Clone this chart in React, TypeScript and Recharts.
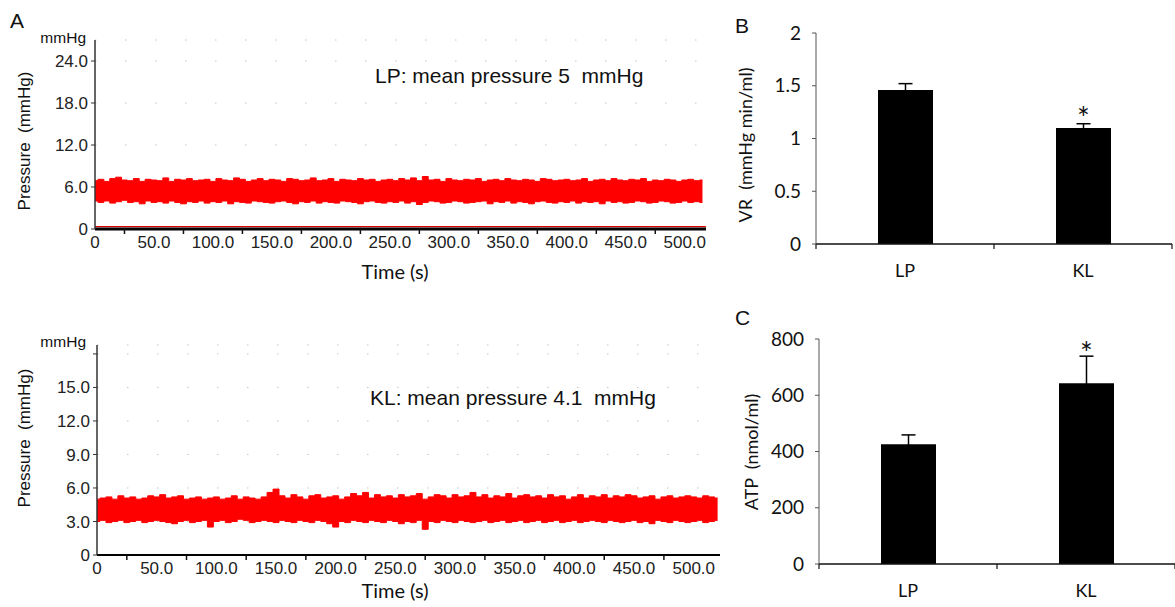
import React from "react";
import {
  ComposedChart,
  Area,
  BarChart,
  Bar,
  ErrorBar,
  LabelList,
  XAxis,
  YAxis,
  CartesianGrid,
  ReferenceLine,
} from "recharts";

// ─── data ────────────────────────────────────────────────────────────────────
// pressure traces: envelope of the noisy signal, read every 5 s
const lpHigh = [
  6.9, 7.1, 6.8, 7.2, 7.4, 7.0, 6.9, 7.2, 6.8, 7.1,
  7.0, 6.9, 7.3, 6.8, 7.1, 7.0, 7.2, 6.9, 7.0, 7.1,
  6.8, 7.2, 7.0, 6.9, 7.3, 7.1, 6.8, 7.0, 7.2, 6.9,
  7.1, 7.0, 6.8, 7.2, 7.1, 6.9, 7.0, 7.3, 6.9, 7.0,
  7.2, 6.8, 7.1, 7.0, 6.9, 7.2, 7.0, 7.1, 6.8, 7.0,
  7.1, 6.9, 7.2, 7.0, 7.3, 6.9, 7.5, 7.0, 7.1, 6.8,
  7.2, 7.0, 6.9, 7.1, 7.0, 7.2, 6.8, 7.0, 7.1, 6.9,
  7.2, 7.0, 6.9, 7.1, 7.0, 6.8, 7.2, 7.1, 6.9, 7.0,
  7.1, 6.9, 7.0, 7.2, 6.8, 7.0, 7.1, 6.9, 7.2, 7.0,
  6.9, 7.1, 7.0, 7.2, 6.8, 7.0, 6.9, 7.1, 7.0, 6.8,
  7.0, 7.1, 6.9, 7.0,
];
const lpLow = [
  4.0, 3.8, 4.0, 3.7, 3.9, 4.1, 3.8, 3.9, 3.6, 4.0,
  3.8, 3.9, 3.7, 4.0, 3.8, 3.6, 3.9, 3.8, 4.0, 3.7,
  3.9, 3.8, 4.0, 3.6, 3.9, 3.8, 3.7, 4.0, 3.9, 3.8,
  3.7, 3.9, 4.0, 3.8, 3.6, 3.9, 3.8, 4.0, 3.7, 3.9,
  3.8, 3.7, 4.0, 3.9, 3.8, 3.6, 3.9, 4.0, 3.8, 3.7,
  3.9, 3.8, 4.0, 3.7, 3.9, 3.5, 3.8, 4.0, 3.9, 3.7,
  3.8, 4.0, 3.9, 3.7, 3.8, 3.9, 4.0, 3.6, 3.9, 3.8,
  4.0, 3.7, 3.9, 3.8, 3.6, 3.9, 4.0, 3.8, 3.7, 3.9,
  3.8, 4.0, 3.7, 3.9, 3.8, 3.9, 3.6, 4.0, 3.8, 3.9,
  3.7, 3.8, 4.0, 3.9, 3.7, 3.8, 4.0, 3.9, 3.7, 3.8,
  4.0, 3.8, 3.9, 3.8,
];
const klHigh = [
  5.0, 5.1, 5.2, 5.0, 5.3, 5.1, 5.2, 5.0, 5.1, 5.3,
  5.2, 5.4, 5.1, 5.2, 5.3, 5.0, 5.1, 5.2, 5.0, 5.1,
  5.2, 5.0, 5.1, 5.3, 5.0, 5.2, 5.1, 5.0, 5.2, 5.6,
  5.9, 5.3, 5.1, 5.4, 5.2, 5.0, 5.3, 5.4, 5.1, 5.2,
  5.3, 5.0, 5.2, 5.5, 5.3, 5.6, 5.1, 5.4, 5.2, 5.3,
  5.1, 5.4, 5.2, 5.3, 5.5, 5.0, 5.2, 5.4, 5.3, 5.1,
  5.4, 5.2, 5.3, 5.6, 5.2, 5.4, 5.1, 5.3, 5.2, 5.5,
  5.1, 5.3, 5.4, 5.2, 5.3, 5.1, 5.4, 5.2, 5.3, 5.0,
  5.2, 5.4, 5.1, 5.3, 5.2, 5.4, 5.1, 5.3, 5.2, 5.4,
  5.3, 5.1, 5.2, 5.3, 5.0, 5.2, 5.3, 5.1, 5.2, 5.3,
  5.2, 5.1, 5.3, 5.2, 5.1,
];
const klLow = [
  3.0, 3.1, 2.9, 3.0, 3.1, 2.9, 3.0, 3.1, 2.9, 3.0,
  3.1, 3.0, 2.9, 2.8, 3.0, 3.1, 2.9, 3.0, 3.1, 2.5,
  3.0, 3.1, 2.9, 3.0, 3.2, 3.1, 2.9, 3.0, 3.1, 3.0,
  2.9, 3.1, 3.0, 2.9, 3.1, 3.0, 2.9, 3.1, 3.0, 2.8,
  2.5, 3.0, 2.9, 3.1, 3.0, 2.9, 3.1, 3.0, 2.9, 3.1,
  3.0, 2.8, 3.0, 2.9, 3.1, 2.3, 3.0, 2.9, 3.1, 3.0,
  2.9, 3.1, 3.0, 2.9, 3.0, 3.1, 2.9, 3.0, 3.1, 2.9,
  3.0, 3.1, 2.9, 3.0, 3.1, 2.9, 3.0, 3.1, 2.9, 3.0,
  3.1, 2.9, 3.0, 3.1, 3.0, 2.9, 3.1, 3.0, 2.9, 3.0,
  3.1, 2.9, 3.0, 2.8, 3.1, 3.0, 2.9, 3.1, 3.0, 2.9,
  3.0, 3.1, 2.9, 3.0, 3.1,
];
const sampleStep = 5; // seconds between envelope readings

const lpTicksY = [0, 6, 12, 18, 24];
const klTicksY = [0, 3, 6, 9, 12, 15, 18];
const timeTicks = [
  0, 25, 50, 75, 100, 125, 150, 175, 200, 225, 250, 275, 300, 325, 350, 375,
  400, 425, 450, 475, 500,
];

// bar panels
const groups = ["LP", "KL"];
const groupPos = [0.5, 1.5];
const vrMean = [1.46, 1.1];
const vrSem = [0.06, 0.04];
const atpMean = [426, 643];
const atpSem = [33, 96];
const sigMarks = ["", "*"];
const vrTicks = [0, 0.5, 1, 1.5, 2];
const atpTicks = [0, 200, 400, 600, 800];

const traceLP = lpHigh.map((hi, i) => ({ t: i * sampleStep, band: [lpLow[i], hi] }));
const traceKL = klHigh.map((hi, i) => ({ t: i * sampleStep, band: [klLow[i], hi] }));
const vrData = groups.map((g, i) => ({ name: g, pos: groupPos[i], mean: vrMean[i], sem: vrSem[i], sig: sigMarks[i] }));
const atpData = groups.map((g, i) => ({ name: g, pos: groupPos[i], mean: atpMean[i], sem: atpSem[i], sig: sigMarks[i] }));

const ARIAL = "'Liberation Sans', Arial, sans-serif";
const CALIBRI = "Lato, 'Open Sans', sans-serif";
const RED = "#ff0000";

function TimeTick({ x, y, payload }: any) {
  const v = payload.value as number;
  if (v % 50 === 0) {
    return (
      <text x={x} y={y + 19} textAnchor="middle" fontSize={17} fontFamily={ARIAL} fill="#222">
        {v === 0 ? "0" : v.toFixed(1)}
      </text>
    );
  }
  return <line x1={x} y1={y} x2={x} y2={y + 5} stroke="#111" strokeWidth={1.5} />;
}

function GroupTick({ x, y, payload }: any) {
  const v = payload.value as number;
  if (Number.isInteger(v)) {
    return <line x1={x} y1={y} x2={x} y2={y + 5} stroke="#111" strokeWidth={1.2} />;
  }
  const idx = groupPos.indexOf(v);
  return (
    <text x={x} y={y + 33} textAnchor="middle" fontSize={18} fontFamily={CALIBRI} fill="#111">
      {groups[idx]}
    </text>
  );
}

function PressureTrace({
  data,
  maxT,
  maxY,
  ticks,
  hideLabel,
  width,
  height,
  margin,
  axisWidth,
  baseline,
}: {
  data: { t: number; band: number[] }[];
  maxT: number;
  maxY: number;
  ticks: number[];
  hideLabel?: number;
  width: number;
  height: number;
  margin: { top: number; right: number; bottom: number; left: number };
  axisWidth: number;
  baseline?: boolean;
}) {
  return (
    <ComposedChart width={width} height={height} data={data} margin={margin}>
      <CartesianGrid vertical={false} stroke="#c4c4c4" strokeDasharray="1.5 28.5" />
      <XAxis
        dataKey="t"
        type="number"
        domain={[0, maxT]}
        ticks={timeTicks}
        interval={0}
        tickSize={0}
        tickMargin={0}
        tick={<TimeTick />}
        axisLine={{ stroke: "#000", strokeWidth: baseline ? 3 : 2 }}
        height={30}
      />
      <YAxis
        type="number"
        domain={[0, maxY]}
        ticks={ticks}
        interval={0}
        width={axisWidth}
        tickSize={4}
        tickMargin={3}
        tickLine={{ stroke: "#333" }}
        axisLine={{ stroke: "#333", strokeWidth: 1.5 }}
        tick={{ fontSize: 17, fontFamily: ARIAL, fill: "#222" }}
        tickFormatter={(v: number) => (v === hideLabel ? "" : v === 0 ? "0" : v.toFixed(1))}
      />
      <Area
        type="step"
        dataKey="band"
        stroke={RED}
        strokeWidth={1}
        fill={RED}
        fillOpacity={1}
        dot={false}
        activeDot={false}
        isAnimationActive={false}
      />
      {baseline && <ReferenceLine y={0.35} stroke="#e00000" strokeWidth={1.2} />}
    </ComposedChart>
  );
}

function MeanBars({
  data,
  ticks,
  maxY,
  width,
  height,
  margin,
  axisWidth,
  sigOffset,
}: {
  data: typeof vrData;
  ticks: number[];
  maxY: number;
  width: number;
  height: number;
  margin: { top: number; right: number; bottom: number; left: number };
  axisWidth: number;
  sigOffset: number;
}) {
  return (
    <BarChart width={width} height={height} data={data} margin={margin}>
      <XAxis
        dataKey="pos"
        type="number"
        domain={[0, 2]}
        ticks={[0, 0.5, 1, 1.5, 2]}
        interval={0}
        tickSize={0}
        tickMargin={0}
        tick={<GroupTick />}
        axisLine={{ stroke: "#111", strokeWidth: 1.5 }}
        height={30}
      />
      <YAxis
        type="number"
        domain={[0, maxY]}
        ticks={ticks}
        interval={0}
        width={axisWidth}
        tickSize={4}
        tickMargin={11}
        tickLine={{ stroke: "#555" }}
        axisLine={{ stroke: "#555", strokeWidth: 1 }}
        tick={{ fontSize: 19, fontFamily: CALIBRI, fill: "#111" }}
      />
      <Bar dataKey="mean" fill="#000" barSize={55} isAnimationActive={false}>
        <ErrorBar dataKey="sem" width={7} strokeWidth={1.5} stroke="#000" direction="y" />
        <LabelList dataKey="sig" position="top" offset={sigOffset} fontSize={30} fontFamily={CALIBRI} fill="#111" />
      </Bar>
    </BarChart>
  );
}

export default function App() {
  const txt = { fontFamily: ARIAL, fill: "#111" };
  const cal = { fontFamily: CALIBRI, fill: "#111" };
  return (
    <div style={{ position: "absolute", left: 0, top: 0, width: 1175, height: 607, background: "#fff" }}>
      <div style={{ position: "absolute", left: 0, top: 0 }}>
        <PressureTrace
          data={traceLP}
          maxT={518}
          maxY={27}
          ticks={lpTicksY}
          width={720}
          height={300}
          margin={{ top: 40, right: 14, bottom: 41, left: 0 }}
          axisWidth={95}
          baseline
        />
      </div>
      <div style={{ position: "absolute", left: 0, top: 300 }}>
        <PressureTrace
          data={traceKL}
          maxT={522}
          maxY={18.8}
          ticks={klTicksY}
          hideLabel={18}
          width={722}
          height={307}
          margin={{ top: 45, right: 2, bottom: 22, left: 0 }}
          axisWidth={97}
        />
      </div>
      <div style={{ position: "absolute", left: 720, top: 0 }}>
        <MeanBars
          data={vrData}
          ticks={vrTicks}
          maxY={2}
          width={455}
          height={300}
          margin={{ top: 33, right: 3, bottom: 26, left: 0 }}
          axisWidth={96}
          sigOffset={-1}
        />
      </div>
      <div style={{ position: "absolute", left: 720, top: 300 }}>
        <MeanBars
          data={atpData}
          ticks={atpTicks}
          maxY={800}
          width={455}
          height={307}
          margin={{ top: 39, right: 0, bottom: 13, left: 0 }}
          axisWidth={99}
          sigOffset={19}
        />
      </div>

      {/* panel letters, axis titles and annotations */}
      <svg width={1175} height={607} style={{ position: "absolute", left: 0, top: 0, pointerEvents: "none" }}>
        <text x={10} y={28} fontSize={21} {...txt}>A</text>
        <text x={86} y={43} fontSize={15.5} textAnchor="end" {...txt}>mmHg</text>
        <text x={86} y={347} fontSize={15.5} textAnchor="end" {...txt}>mmHg</text>
        <text transform="translate(30,141) rotate(-90)" fontSize={17} textAnchor="middle" {...txt}>
          {"Pressure\u00a0\u00a0(mmHg)"}
        </text>
        <text transform="translate(30,438) rotate(-90)" fontSize={17} textAnchor="middle" {...txt}>
          {"Pressure\u00a0\u00a0(mmHg)"}
        </text>
        <text x={395} y={279} fontSize={20} textAnchor="middle" {...cal}>Time (s)</text>
        <text x={395} y={598} fontSize={20} textAnchor="middle" {...cal}>Time (s)</text>
        <text x={375} y={83} fontSize={21} {...txt}>{"LP: mean pressure 5\u00a0 mmHg"}</text>
        <text x={370} y={405} fontSize={21} {...txt}>{"KL: mean pressure 4.1\u00a0 mmHg"}</text>

        <text x={735} y={33} fontSize={21} {...txt}>B</text>
        <text transform="translate(752,145) rotate(-90)" fontSize={18} textAnchor="middle" {...cal}>
          {"VR\u00a0\u00a0(mmHg min/ml)"}
        </text>
        <text x={735} y={325} fontSize={21} {...txt}>C</text>
        <text transform="translate(758,452) rotate(-90)" fontSize={18} textAnchor="middle" {...cal}>
          {"ATP\u00a0\u00a0(nmol/ml)"}
        </text>
      </svg>
    </div>
  );
}
